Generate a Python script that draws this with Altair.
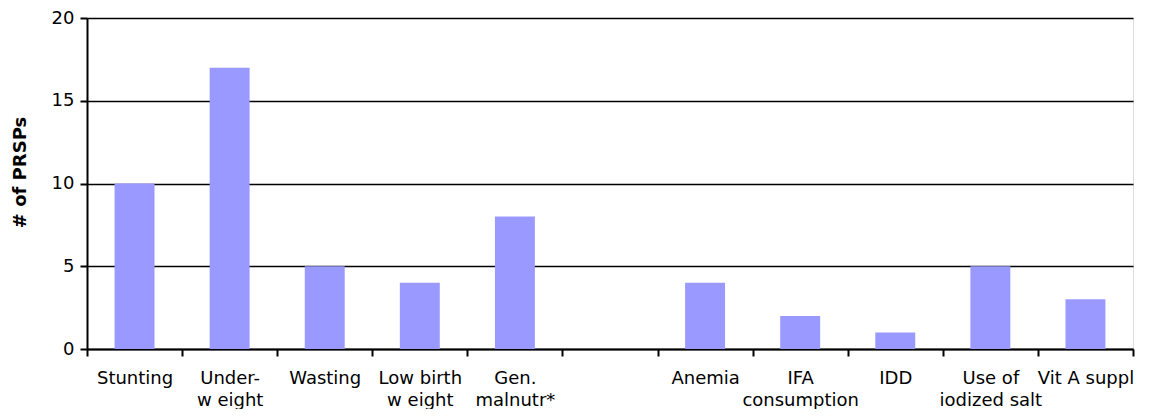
import altair as alt
import pandas as pd

categories = ["Stunting", "Under-|w eight", "Wasting", "Low birth|w eight",
              "Gen.|malnutr*", " ", "Anemia", "IFA|consumption", "IDD",
              "Use of|iodized salt", "Vit A suppl"]
values = [10, 17, 5, 4, 8, None, 4, 2, 1, 5, 3]
y_ticks = [0, 5, 10, 15, 20]

df = pd.DataFrame({"cat": categories, "val": values})

FONT = "DejaVu Sans"

bars = alt.Chart(df).mark_bar(color="#9999FF", width=alt.RelativeBandSize(0.42)).encode(
    x=alt.X("cat:N", sort=categories,
            scale=alt.Scale(domain=categories, paddingInner=0, paddingOuter=0),
            axis=alt.Axis(title=None, labelExpr="split(datum.label, '|')",
                          tickBand="extent", labelAngle=0, labelFont=FONT,
                          labelFontSize=18, labelColor="black", labelLineHeight=22,
                          labelBaseline="top", labelPadding=13,
                          domainColor="black", domainWidth=2, tickColor="black",
                          tickWidth=2, tickSize=7, grid=False, labelLimit=200)),
    y=alt.Y("val:Q", scale=alt.Scale(domain=[0, 20]),
            axis=alt.Axis(title="# of PRSPs", values=y_ticks, titleFont=FONT,
                          titleFontSize=18, titleFontWeight="bold", titleColor="black",
                          titleX=-67, titleY=154, titleAngle=270, titleAlign="center",
                          titleBaseline="middle",
                          labelFont=FONT, labelFontSize=18,
                          labelColor="black", labelPadding=6, domainColor="black",
                          domainWidth=2, tickColor="black", tickWidth=2, tickSize=7,
                          grid=True, gridColor="black", gridWidth=1.5)),
)

chart = bars.properties(
    width=1046, height=331,
    autosize=alt.AutoSizeParams(type="none"),
    padding={"left": 79, "top": 10, "right": 10, "bottom": 60},
).configure_view(stroke="black", strokeWidth=2).configure(background="white")

chart.save("out.html", embed_options={"renderer": "svg", "actions": False})
